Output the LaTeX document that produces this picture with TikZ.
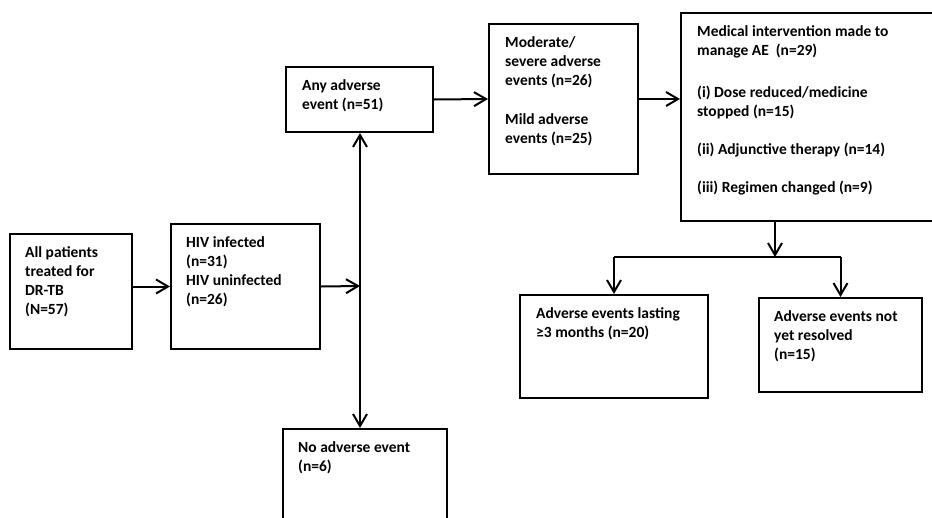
\documentclass[tikz,border=0pt]{standalone}
\usepackage{fontspec}
\setmainfont{Carlito}
\usetikzlibrary{positioning,arrows.meta}

\begin{document}
\begin{tikzpicture}[x=1pt,y=-1pt,
    box/.style 2 args={draw,line width=2pt,inner sep=0pt,minimum width=#1,minimum height=#2,anchor=north west},
    txt/.style={inner sep=0pt,align=left,font=\fontsize{15.5}{19}\selectfont\bfseries},
    arr/.style={-{Straight Barb[length=12pt,width=14pt,line width=2pt]},line width=2pt}]
     \clip (0,0) rectangle (932,517);
     % boxes
     \node[box={122pt}{115pt}] (all) at (9,233) {};
     \node[box={149pt}{125pt}] (hiv) at (170,223) {};
     \node[box={147pt}{65pt}] (any) at (285,66) {};
     \node[box={164pt}{120pt}] (none) at (282,428) {};
     \node[box={149pt}{150pt}] (sev) at (488,23) {};
     \node[box={280pt}{208pt}] (med) at (680,12) {};
     \node[box={188pt}{103pt}] (long) at (519,294) {};
     \node[box={163pt}{94pt}] (open) at (758,297) {};

     % texts
     \node[txt,below right=13pt and 16pt of all.north west] (all-t) {All patients\\treated for\\DR-TB\\(N=57)};
     \node[txt,below right=13pt and 16pt of hiv.north west] (hiv-t) {HIV infected\\(n=31)\\HIV uninfected\\(n=26)};
     \node[txt,below right=13pt and 17pt of any.north west] (any-t) {Any adverse\\event (n=51)};
     \node[txt,below right=13pt and 16pt of none.north west] (none-t) {No adverse event\\(n=6)};
     \node[txt,below right=13pt and 17pt of sev.north west] (sev-t) {Moderate/\\severe adverse\\events (n=26)\\[20pt]Mild adverse\\events (n=25)};
     \node[txt,below right=13pt and 17pt of med.north west] (med-t) {Medical intervention made to\\manage AE\ \ (n=29)\\[23pt](i) Dose reduced/medicine\\stopped (n=15)\\[19pt](ii) Adjunctive therapy (n=14)\\[19pt](iii) Regimen changed (n=9)};
     \node[txt,below right=13pt and 17pt of long.north west] (long-t) {Adverse events lasting\\≥3 months (n=20)};
     \node[txt,below right=13pt and 16pt of open.north west] (open-t) {Adverse events not\\yet resolved\\(n=15)};

     % connectors
     \coordinate (split) at (360,286);
     \coordinate (fork) at (775,257);
     \draw[arr] (all.east |- hiv.west) -- (hiv.west);
     \draw[arr] (hiv.east) -- (split);
     \draw[arr] (split) -- (split |- any.south);
     \draw[arr] (split) -- (split |- none.north);
     \draw[arr] (any.east) -- (sev.west);
     \draw[arr] (sev.east) -- (sev.east -| med.west);
     \draw[arr] (fork |- med.south) -- (fork);
     \draw[line width=2pt] (fork -| long.north) -- (fork -| open.north);
     \draw[arr] (fork -| long.north) -- (long.north);
     \draw[arr] (fork -| open.north) -- (open.north);
\end{tikzpicture}
\end{document}
